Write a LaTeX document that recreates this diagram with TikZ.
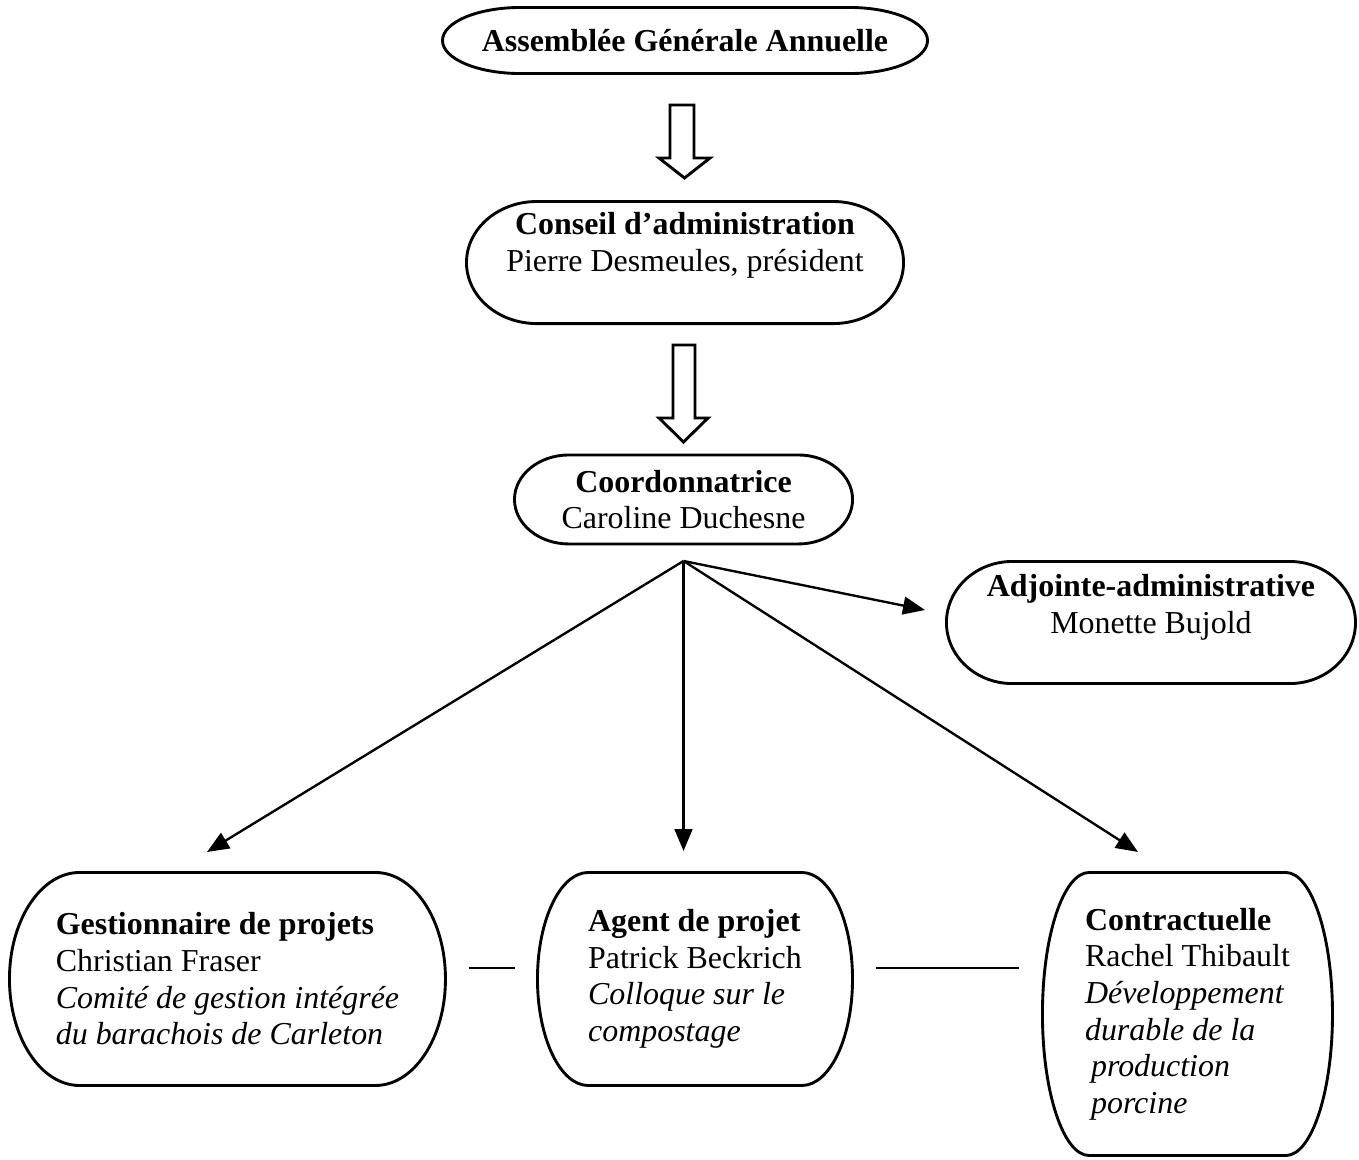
\documentclass[tikz,border=0pt]{standalone}
\usepackage{fontspec}
\setmainfont{Liberation Serif}
\usetikzlibrary{arrows.meta,calc}

\newcommand{\orgfont}{\fontsize{12.2}{14}\selectfont}
% outline of a box: flat top and bottom, half-ellipse ends
\newcommand{\termframe}[1]{%
  \draw[frame] let \p1=(#1.north west), \p2=(#1.south east),
    \n1={0.161*(\x2-\x1)}, \n2={0.5*(\y1-\y2)} in
    (\x1+\n1,\y1) -- (\x2-\n1,\y1)
    arc[start angle=90,end angle=-90,x radius=\n1*1pt,y radius=\n2*1pt]
    -- (\x1+\n1,\y2)
    arc[start angle=270,end angle=90,x radius=\n1*1pt,y radius=\n2*1pt] -- cycle;}

\begin{document}
\begin{tikzpicture}[>={Triangle[length=8.4pt,width=6.8pt]},font=\orgfont,
  box/.style={rectangle,inner sep=0pt,align=center},
  frame/.style={line width=1.1pt},
  link/.style={line width=0.9pt},
  hollow/.style={line width=1.1pt,line join=miter}]
\useasboundingbox (0,0) rectangle (18.246,15.561);
% boxes
\node[box,minimum width=6.498cm,minimum height=0.873cm] (agm) at (9.197,15.017) {\textbf{Assemblée Générale Annuelle}};
\node[box,minimum width=5.854cm,minimum height=1.625cm] (ca) at (9.197,12.036) {\textbf{Conseil d’administration}\\Pierre Desmeules, président\\[2pt]\mbox{}};
\node[box,minimum width=4.525cm,minimum height=1.181cm] (coord) at (9.177,8.855) {\textbf{Coordonnatrice}\\Caroline Duchesne};
\node[box,minimum width=5.478cm,minimum height=1.625cm] (adj) at (15.453,7.203) {\textbf{Adjointe-administrative}\\Monette Bujold\\\mbox{}};
\node[box,align=left,minimum width=5.840cm,minimum height=2.846cm] (gest) at (3.054,2.417) {\textbf{Gestionnaire de projets}\\Christian Fraser\\\textit{Comité de gestion intégrée}\\\textit{du barachois de Carleton}};
\node[box,align=left,minimum width=4.216cm,minimum height=2.846cm] (agent) at (9.331,2.417) {\textbf{Agent de projet}\\Patrick Beckrich\\\textit{Colloque sur le}\\\textit{compostage}};
\node[box,align=left,minimum width=3.880cm,minimum height=3.786cm] (contr) at (15.943,1.947) {\textbf{Contractuelle}\\Rachel Thibault\\\textit{Développement}\\\textit{durable de la}\\\hspace*{2.3pt}\textit{production}\\\hspace*{2.3pt}\textit{porcine}};
\foreach \b in {agm,ca,coord,adj,gest,agent,contr} \termframe{\b};
% hollow arrows
\draw[hollow] (8.995,14.151) -- (9.318,14.151) -- (9.318,13.439) -- (9.532,13.439) -- (9.190,13.171) -- (8.848,13.439) -- (8.995,13.439) -- cycle;
\draw[hollow] (9.036,10.929) -- (9.331,10.929) -- (9.331,9.949) -- (9.506,9.949) -- (9.177,9.626) -- (8.848,9.949) -- (9.036,9.949) -- cycle;
% arrows from the coordinator
\coordinate (fork) at (9.177,8.029);
\coordinate (adjin) at (12.419,7.371);
\coordinate (gestin) at (2.779,4.122);
\coordinate (agentin) at (9.177,4.135);
\coordinate (contrin) at (15.279,4.122);
\foreach \t in {adjin,gestin,agentin,contrin}
  \draw[link,->] (fork) -- (\t);
% links between the staff
\draw[link] ($(gest.east)+(0.31,0.15)$) -- ($(agent.west)+(-0.30,0.15)$);
\draw[link] ($(agent.east)+(0.31,0.15)$) -- ($(agent.east -| contr.west)+(-0.31,0.15)$);
\end{tikzpicture}
\end{document}
